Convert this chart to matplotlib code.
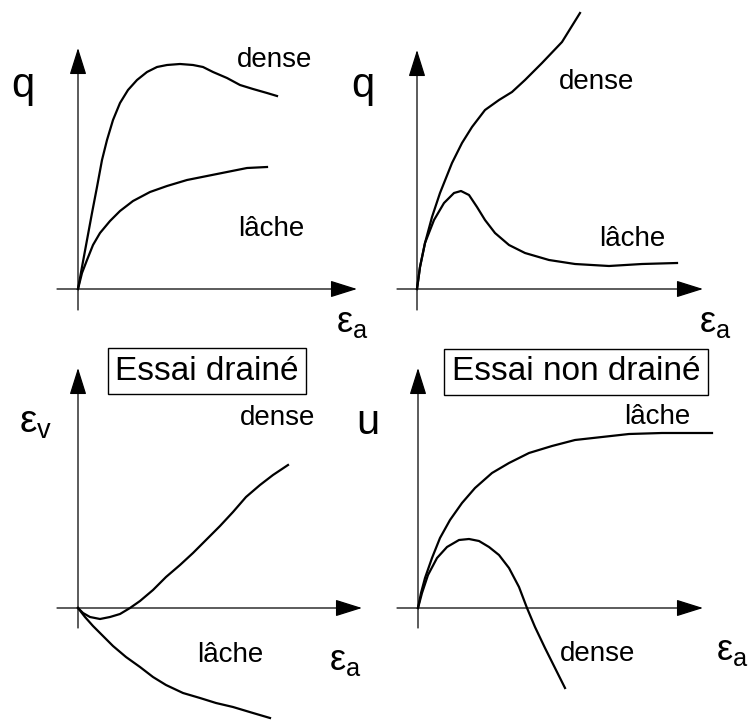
import matplotlib.pyplot as plt

plt.rcParams['font.family'] = ['Liberation Sans', 'DejaVu Sans']
plt.rcParams['mathtext.fontset'] = 'custom'
plt.rcParams['mathtext.rm'] = 'Liberation Sans'

# curve points (x: axial strain, y: response), origin at 0,0
tl_dense_x = [0, 4, 9, 14, 19, 24, 29, 35, 42, 50, 59, 69, 79, 89, 102, 115, 125, 135, 149, 162, 175, 189, 199]
tl_dense_y = [0, 22, 49, 76, 102, 129, 149, 169, 186, 199, 209, 217, 222, 224, 225, 224, 222, 217, 211, 204, 200, 196, 193]
tl_lache_x = [0, 4, 9, 15, 22, 32, 42, 55, 72, 89, 109, 129, 149, 169, 189]
tl_lache_y = [0, 16, 29, 44, 56, 68, 78, 88, 97, 103, 109, 113, 117, 121, 122]

tr_dense_x = [0, 3, 8, 15, 23, 35, 45, 55, 68, 82, 95, 108, 125, 145, 163]
tr_dense_y = [0, 22, 46, 72, 96, 126, 146, 162, 179, 189, 197, 209, 226, 247, 276]
tr_lache_x = [0, 3, 8, 17, 27, 37, 44, 52, 60, 68, 78, 92, 108, 132, 158, 192, 225, 260]
tr_lache_y = [0, 22, 46, 69, 86, 96, 98, 94, 82, 69, 56, 44, 36, 29, 25, 23, 25, 26]

bl_dense_x = [0, 5, 12, 22, 32, 42, 52, 62, 75, 88, 102, 115, 128, 142, 155, 168, 182, 195, 210]
bl_dense_y = [0, -5, -9, -11, -9, -6, 0, 7, 18, 31, 43, 55, 68, 82, 96, 111, 123, 133, 143]
bl_lache_x = [0, 7, 15, 25, 35, 48, 62, 75, 88, 105, 122, 138, 155, 175, 192]
bl_lache_y = [0, -9, -18, -28, -38, -49, -59, -69, -77, -85, -90, -95, -99, -105, -110]

br_lache_x = [0, 3, 7, 14, 22, 32, 44, 57, 74, 91, 111, 134, 157, 184, 211, 244, 294]
br_lache_y = [0, 15, 30, 50, 70, 88, 105, 120, 135, 145, 155, 162, 168, 171, 174, 175, 175]
br_dense_x = [0, 4, 10, 19, 29, 41, 51, 61, 71, 81, 91, 101, 109, 117, 127, 137, 147]
br_dense_y = [0, 15, 33, 50, 61, 68, 69, 67, 61, 53, 40, 21, 0, -19, -40, -60, -80]

W, H = 749, 720
fig = plt.figure(figsize=(W / 100, H / 100), dpi=100)

def panel(px0, py0, px1, py1, ox, oy):
    # axes covering pixel box, 1 data unit = 1 pixel, origin at (ox, oy)
    ax = fig.add_axes([px0 / W, 1 - py1 / H, (px1 - px0) / W, (py1 - py0) / H])
    ax.set_xlim(px0 - ox, px1 - ox)
    ax.set_ylim(oy - py1, oy - py0)
    ax.axis('off')
    return ax

def axes_arrows(ax, xlo, xhi, ylo, yhi):
    style = dict(arrowstyle='-|>,head_length=0.7,head_width=0.22', mutation_scale=24,
                 color='k', lw=0.9, shrinkA=0, shrinkB=0)
    ax.annotate('', xy=(xhi, 0), xytext=(xlo, 0), arrowprops=style, annotation_clip=False)
    ax.annotate('', xy=(0, yhi), xytext=(0, ylo), arrowprops=style, annotation_clip=False)

def label(ax, x, y, s, size=20, **kw):
    ax.text(x, y, s, fontsize=size, ha='center', va='center', clip_on=False, **kw)

eps_a = r'$\mathrm{\varepsilon_a}$'
lw = 1.6

ax = panel(0, 0, 375, 340, 78, 289)
axes_arrows(ax, -21, 279, -21, 241)
ax.plot(tl_dense_x, tl_dense_y, color='k', lw=lw)
ax.plot(tl_lache_x, tl_lache_y, color='k', lw=lw)
label(ax, 197, 229, 'dense')
label(ax, 193, 60, 'lâche')
label(ax, -55, 203, 'q', size=30)
label(ax, 274, -33, eps_a, size=26)

ax = panel(375, 0, 749, 340, 417, 289)
axes_arrows(ax, -20, 286, -21, 239)
ax.plot(tr_dense_x, tr_dense_y, color='k', lw=lw)
ax.plot(tr_lache_x, tr_lache_y, color='k', lw=lw)
label(ax, 180, 207, 'dense')
label(ax, 215, 50, 'lâche')
label(ax, -54, 203, 'q', size=30)
label(ax, 298, -33, eps_a, size=26)

ax = panel(0, 340, 375, 720, 78, 608)
axes_arrows(ax, -21, 284, -20, 240)
ax.plot(bl_dense_x, bl_dense_y, color='k', lw=lw)
ax.plot(bl_lache_x, bl_lache_y, color='k', lw=lw)
label(ax, 200, 190, 'dense')
label(ax, 152, -47, 'lâche')
label(ax, -42, 185, r'$\mathrm{\varepsilon_v}$', size=28)
label(ax, 267, -52, eps_a, size=26)
label(ax, 129, 237, 'Essai drainé', size=24,
      bbox=dict(boxstyle='square,pad=0.22', fc='white', ec='k', lw=1))

ax = panel(375, 340, 749, 720, 418, 608)
axes_arrows(ax, -21, 285, -20, 240)
ax.plot(br_lache_x, br_lache_y, color='k', lw=lw)
ax.plot(br_dense_x, br_dense_y, color='k', lw=lw)
label(ax, 239, 191, 'lâche')
label(ax, 180, -46, 'dense')
label(ax, -50, 185, 'u', size=30)
label(ax, 314, -42, eps_a, size=26)
label(ax, 158, 236, 'Essai non drainé', size=24,
      bbox=dict(boxstyle='square,pad=0.22', fc='white', ec='k', lw=1))

fig.savefig('out.png', dpi=100)
